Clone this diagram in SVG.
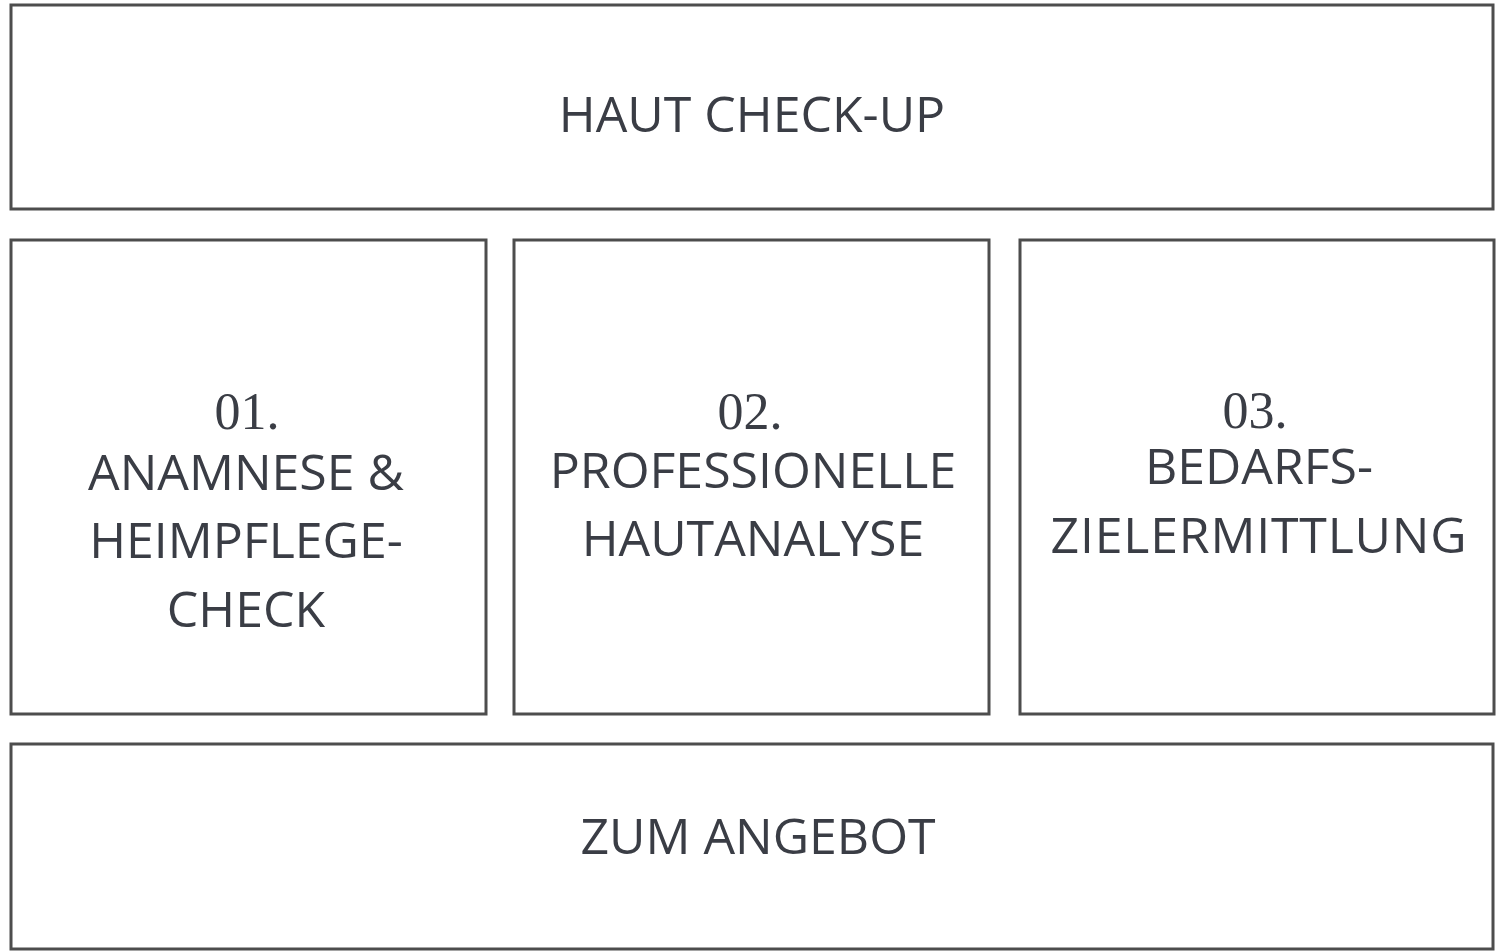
<svg xmlns="http://www.w3.org/2000/svg" width="1500" height="952" viewBox="0 0 1500 952">
<style>
.box{fill:#ffffff;stroke:#4d4d4d;stroke-width:3}
.t{font-family:"Open Sans","Noto Sans","Liberation Sans",sans-serif;font-size:50px;fill:#3a3d45;text-anchor:middle}
.n{font-family:"Liberation Serif","DejaVu Serif",serif;font-size:52px;fill:#3a3d45;text-anchor:middle}
</style>
<rect width="1500" height="952" fill="#ffffff"/>
<g id="haut-check-up">
<rect class="box" x="11" y="5" width="1482" height="204"/>
<text class="t" x="752" y="132">HAUT CHECK-UP</text>
</g>
<g id="step-01">
<rect class="box" x="11" y="240" width="475" height="474"/>
<text class="n" x="247" y="429">01.</text>
<text class="t" x="246" y="490">ANAMNESE &amp;</text>
<text class="t" x="246" y="558">HEIMPFLEGE-</text>
<text class="t" x="246" y="627">CHECK</text>
</g>
<g id="step-02">
<rect class="box" x="514" y="240" width="475" height="474"/>
<text class="n" x="750" y="429">02.</text>
<text class="t" x="753" y="488">PROFESSIONELLE</text>
<text class="t" x="753" y="556">HAUTANALYSE</text>
</g>
<g id="step-03">
<rect class="box" x="1020" y="240" width="474" height="474"/>
<text class="n" x="1255" y="428">03.</text>
<text class="t" x="1259" y="484">BEDARFS-</text>
<text class="t" x="1259" y="553" letter-spacing="0.8">ZIELERMITTLUNG</text>
</g>
<g id="zum-angebot">
<rect class="box" x="11" y="744" width="1482" height="205"/>
<text class="t" x="758" y="854">ZUM ANGEBOT</text>
</g>
<g id="connectors"></g>
</svg>
